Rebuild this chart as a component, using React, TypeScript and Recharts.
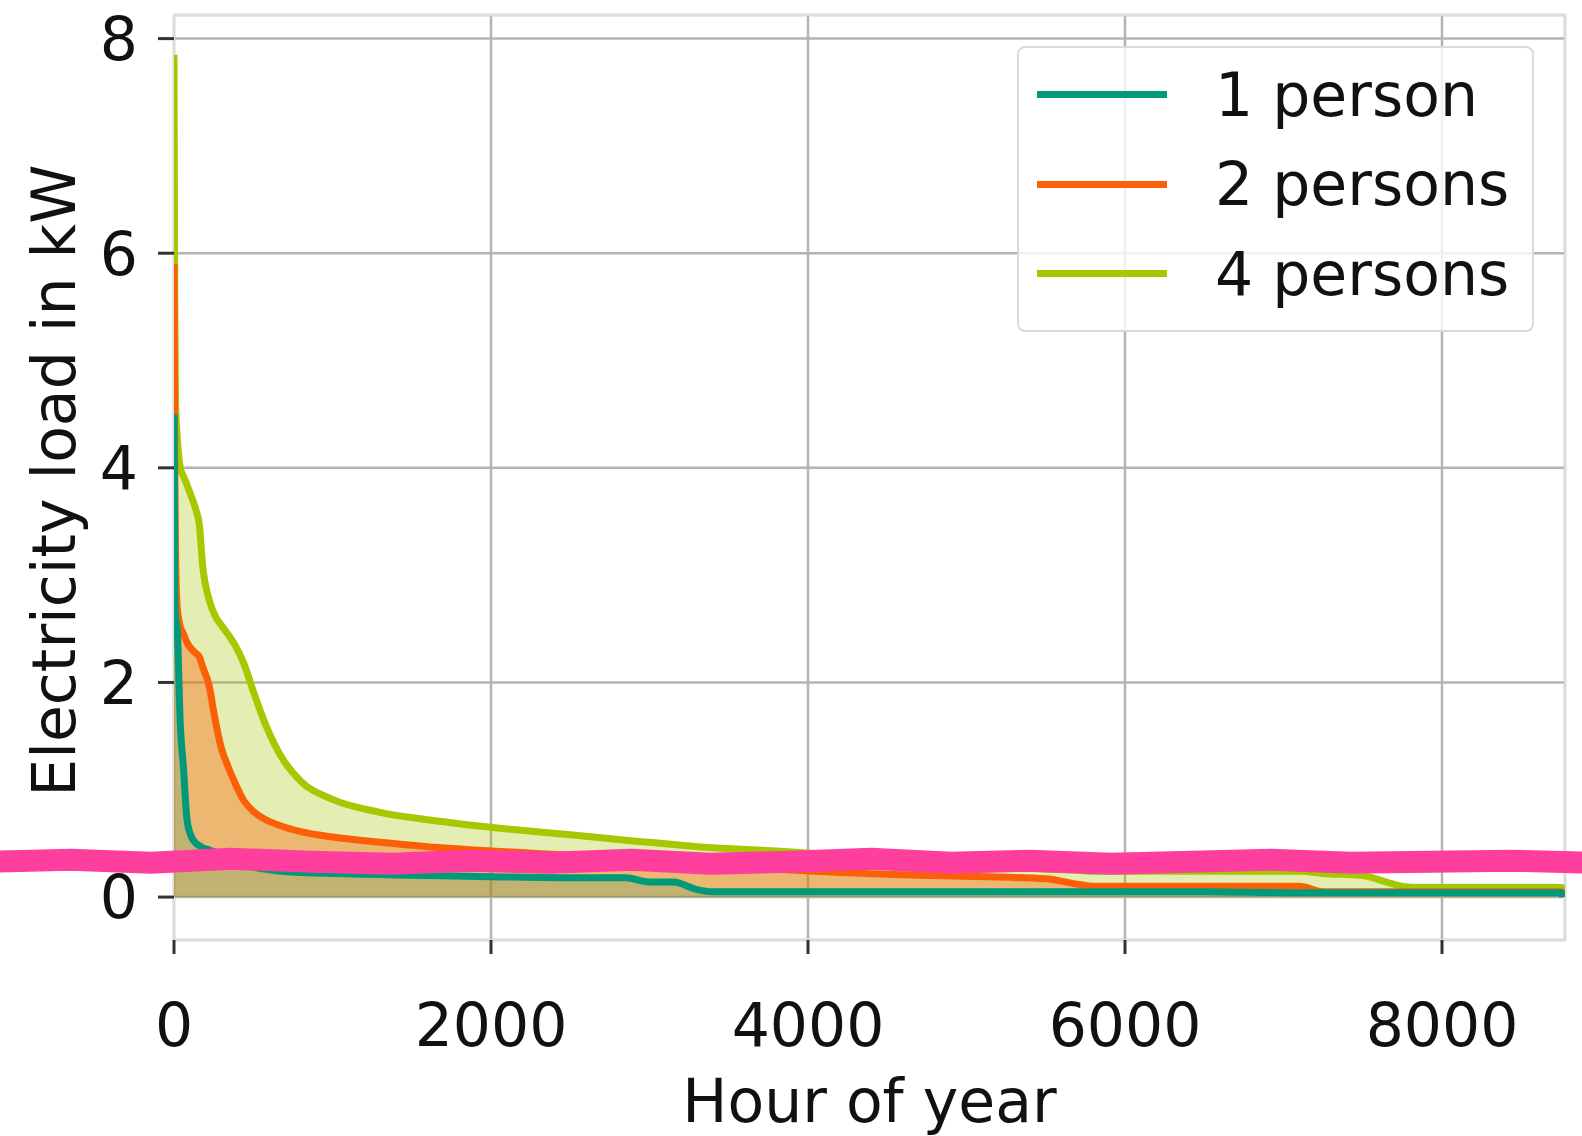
import {
  ComposedChart,
  Area,
  Line,
  XAxis,
  YAxis,
  CartesianGrid,
  Legend,
  ReferenceArea,
  ReferenceLine,
} from 'recharts';

// load duration curves, hours sorted by load (descending)
const hours = [
  0, 5, 10, 20, 40, 60, 80, 100, 140, 160, 180, 220, 260, 300, 340, 380, 440, 500, 580, 680, 800, 1000,
  1300, 1600, 2000, 2500, 2850, 3000, 3150, 3300, 3400, 3800, 4200, 4800, 5500, 5700, 5800, 6500, 7100,
  7250, 7500, 7650, 7750, 7850, 8500, 8755, 8760,
];

const onePerson = [
  4.5, 2.8, 2.6, 2.5, 1.6, 1.2, 0.75, 0.6, 0.5, 0.48, 0.46, 0.44, 0.42, 0.4, 0.37, 0.34, 0.31, 0.28, 0.26,
  0.24, 0.23, 0.22, 0.21, 0.2, 0.19, 0.18, 0.18, 0.14, 0.14, 0.07, 0.05, 0.05, 0.05, 0.05, 0.05, 0.05, 0.05,
  0.05, 0.04, 0.04, 0.04, 0.04, 0.04, 0.04, 0.04, 0.04, 0,
];

const twoPersons = [
  5.9, 4.0, 3.2, 2.7, 2.52, 2.45, 2.38, 2.33, 2.27, 2.24, 2.15, 1.98, 1.65, 1.38, 1.22, 1.08, 0.9, 0.8, 0.72,
  0.66, 0.61, 0.56, 0.51, 0.47, 0.43, 0.39, 0.36, 0.35, 0.33, 0.31, 0.3, 0.26, 0.23, 0.2, 0.17, 0.12, 0.1,
  0.1, 0.1, 0.05, 0.05, 0.05, 0.05, 0.05, 0.05, 0.05, 0,
];

const fourPersons = [
  7.85, 5.5, 4.6, 4.3, 4.0, 3.92, 3.85, 3.77, 3.6, 3.47, 3.1, 2.78, 2.62, 2.53, 2.45, 2.36, 2.18, 1.92, 1.6,
  1.3, 1.08, 0.91, 0.79, 0.72, 0.65, 0.58, 0.53, 0.51, 0.49, 0.47, 0.46, 0.43, 0.39, 0.33, 0.26, 0.25, 0.24,
  0.24, 0.24, 0.22, 0.2, 0.14, 0.1, 0.09, 0.09, 0.09, 0,
];

const xTicks = [0, 2000, 4000, 6000, 8000];
const yTicks = [0, 2, 4, 6, 8];
const xDomain = [0, 8776];
const yDomain = [-0.4, 8.22];

// hand-drawn marker across the picture
const markerLevel = 0.33;
const markerWobble = [0, -2, 1, -3, 0, 2, -1, 1, -2, 2, 0, -3, 1, -1, 2, 0, -2, 1, 0, -1, 1];

const SERIES = [
  { key: 'p1', name: '1 person', color: '#00997a', fillOpacity: 0.18 },
  { key: 'p2', name: '2 persons', color: '#fb6008', fillOpacity: 0.38 },
  { key: 'p4', name: '4 persons', color: '#a5c800', fillOpacity: 0.3 },
];

const data = hours.map((h, i) => ({
  hour: h,
  p1: onePerson[i],
  p2: twoPersons[i],
  p4: fourPersons[i],
}));

const FONT = '"DejaVu Sans", sans-serif';

function MarkerStroke(props: any) {
  const y = props.y1;
  const step = 1600 / (markerWobble.length - 1);
  const d = markerWobble
    .map((o, i) => `${i ? 'L' : 'M'}${(i * step - 9).toFixed(1)},${(y + o).toFixed(1)}`)
    .join(' ');
  return <path d={d} stroke="#ff3f9e" strokeWidth={22} fill="none" strokeLinejoin="round" strokeLinecap="round" />;
}

function YLabel(props: any) {
  const { viewBox } = props;
  const x = viewBox.x + 75;
  const y = viewBox.y + viewBox.height / 2 + 3;
  return (
    <text
      x={x}
      y={y}
      transform={`rotate(-90, ${x}, ${y})`}
      textAnchor="middle"
      fontSize={60}
      fontFamily={FONT}
      fill="#111"
    >
      Electricity load in kW
    </text>
  );
}

function LegendBox() {
  return (
    <div
      style={{
        boxSizing: 'border-box',
        width: 517,
        height: 286,
        border: '2.5px solid #dadada',
        borderRadius: 8,
        background: 'rgba(255,255,255,0.8)',
        paddingTop: 2,
        fontFamily: FONT,
      }}
    >
      {SERIES.map((s) => (
        <div key={s.key} style={{ display: 'flex', alignItems: 'center', height: 89.5 }}>
          <div style={{ marginLeft: 18, width: 130, height: 7, background: s.color }} />
          <span style={{ marginLeft: 48, fontSize: 60, lineHeight: 1, color: '#111', whiteSpace: 'nowrap' }}>
            {s.name}
          </span>
        </div>
      ))}
    </div>
  );
}

export default function App() {
  return (
    <div style={{ position: 'absolute', left: 0, top: 0, width: 1582, height: 1136, background: '#fff' }}>
      <ComposedChart width={1582} height={1136} data={data} margin={{ top: 15, right: 17, left: 0, bottom: 0 }}>
        <CartesianGrid stroke="#b4b4b4" strokeWidth={2.5} />
        <ReferenceArea
          x1={xDomain[0]}
          x2={xDomain[1]}
          y1={yDomain[0]}
          y2={yDomain[1]}
          fill="none"
          stroke="#dddddd"
          strokeWidth={2.5}
          ifOverflow="visible"
        />
        <XAxis
          type="number"
          dataKey="hour"
          domain={xDomain}
          ticks={xTicks}
          allowDataOverflow
          height={196}
          axisLine={false}
          tickSize={14}
          tickMargin={49}
          tickLine={{ stroke: '#333', strokeWidth: 3 }}
          tick={{ fontSize: 60, fontFamily: FONT, fill: '#111' }}
          label={{
            value: 'Hour of year',
            position: 'insideBottom',
            offset: 14,
            fontSize: 60,
            fontFamily: FONT,
            fill: '#111',
          }}
        />
        <YAxis
          type="number"
          domain={yDomain}
          ticks={yTicks}
          allowDataOverflow
          width={174}
          axisLine={false}
          tickSize={16}
          tickMargin={20}
          tickLine={{ stroke: '#333', strokeWidth: 3 }}
          tick={{ fontSize: 60, fontFamily: FONT, fill: '#111' }}
          label={<YLabel />}
        />
        {SERIES.slice()
          .reverse()
          .map((s) => (
            <Area
              key={`fill-${s.key}`}
              type="monotoneX"
              dataKey={s.key}
              baseValue={0}
              stroke="none"
              fill={s.color}
              fillOpacity={s.fillOpacity}
              legendType="none"
              isAnimationActive={false}
            />
          ))}
        {SERIES.slice()
          .reverse()
          .map((s) => (
            <Line
              key={`line-${s.key}`}
              type="monotoneX"
              dataKey={s.key}
              name={s.name}
              stroke={s.color}
              strokeWidth={7}
              dot={false}
              isAnimationActive={false}
            />
          ))}
        <ReferenceLine y={markerLevel} shape={MarkerStroke} ifOverflow="visible" />
        <Legend
          layout="vertical"
          align="center"
          verticalAlign="middle"
          content={LegendBox}
          wrapperStyle={{ top: 46, left: 1017, width: 517, height: 286 }}
        />
      </ComposedChart>
    </div>
  );
}
